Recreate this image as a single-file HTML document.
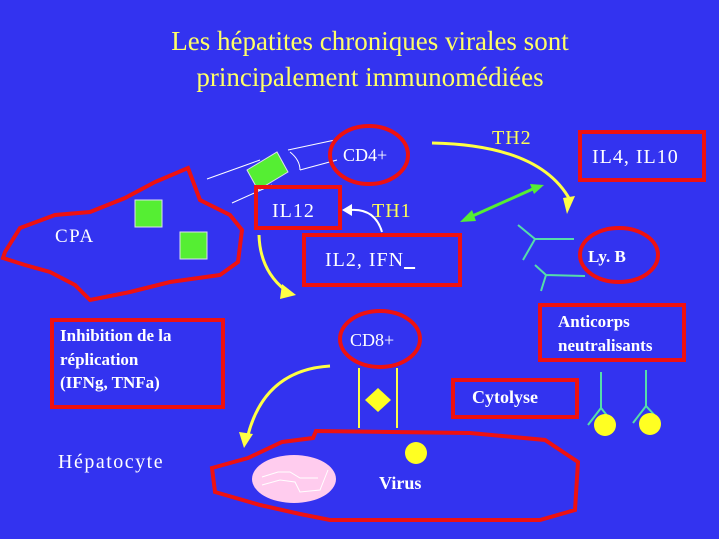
<!DOCTYPE html>
<html><head><style>html,body{margin:0;padding:0;background:#3333f0}svg{display:block}</style></head>
<body>
<svg width="719" height="539" xmlns="http://www.w3.org/2000/svg" font-family="Liberation Serif, serif">
<rect width="719" height="539" fill="#3333f0"/>
<text x="370" y="50" font-size="27" fill="#ffff66" text-anchor="middle">Les hépatites chroniques virales sont</text>
<text x="370" y="86" font-size="27" fill="#ffff66" text-anchor="middle">principalement immunomédiées</text>
<path d="M5,252 L20,228 L55,215 L90,212 L125,198 L155,182 L188,168 L200,200 L230,215 L242,230 L238,262 L220,275 L170,282 L130,292 L90,300 L75,285 L50,272 L25,265 L3,258 Z" fill="none" stroke="#ee1111" stroke-width="4"/>
<text x="55" y="242" font-size="19" fill="#fff" letter-spacing="1.5">CPA</text>
<rect x="135" y="200" width="27" height="27" fill="#55ee33" stroke="#dde" stroke-width="1"/>
<rect x="180" y="232" width="27" height="27" fill="#55ee33" stroke="#dde" stroke-width="1"/>
<line x1="207" y1="179" x2="260" y2="160" stroke="#fff" stroke-width="1"/>
<line x1="232" y1="203" x2="272" y2="185" stroke="#fff" stroke-width="1"/>
<polygon points="247,170 277,152 288,172 258,190" fill="#55ee33" stroke="#dde"/>
<line x1="288" y1="150" x2="335" y2="140" stroke="#fff" stroke-width="1"/>
<line x1="300" y1="170" x2="337" y2="160" stroke="#fff" stroke-width="1"/>
<path d="M290,152 Q300,160 300,170" fill="none" stroke="#fff" stroke-width="1"/>
<ellipse cx="369" cy="155" rx="39" ry="29" fill="none" stroke="#ee1111" stroke-width="4"/>
<text x="343" y="161" font-size="18" fill="#fff">CD4+</text>
<rect x="256" y="187" width="84" height="41" fill="none" stroke="#ee1111" stroke-width="4"/>
<text x="272" y="217" font-size="20" fill="#fff" letter-spacing="1">IL12</text>
<text x="372" y="217" font-size="20" fill="#ffff55" letter-spacing="1">TH1</text>
<path d="M382,232 Q375,208 350,210" fill="none" stroke="#fff" stroke-width="2"/>
<polygon points="342,210 352,204 352,216" fill="#fff"/>
<rect x="304" y="235" width="156" height="50" fill="none" stroke="#ee1111" stroke-width="4"/>
<text x="325" y="266" font-size="20" fill="#fff" letter-spacing="1">IL2, IFN<tspan text-decoration="underline">_</tspan></text>
<path d="M259,235 Q260,270 285,290" fill="none" stroke="#ffff44" stroke-width="3"/>
<polygon points="296,295 282,284 280,299" fill="#ffff44"/>
<text x="492" y="144" font-size="20" fill="#ffff55" letter-spacing="1">TH2</text>
<path d="M432,143 Q540,145 570,200" fill="none" stroke="#ffff44" stroke-width="3"/>
<polygon points="567,214 563,198 575,196" fill="#ffff44"/>
<line x1="468" y1="218" x2="535" y2="188" stroke="#55ee33" stroke-width="3"/>
<polygon points="460,222 472,210 476,221" fill="#55ee33"/>
<polygon points="544,185 530,184 534,194" fill="#55ee33"/>
<rect x="580" y="132" width="124" height="48" fill="none" stroke="#ee1111" stroke-width="4"/>
<text x="592" y="163" font-size="20" fill="#fff" letter-spacing="1">IL4, IL10</text>
<g stroke="#55ddaa" stroke-width="2" fill="none">
<path d="M518,225 L535,239 L574,239 M535,239 L523,260"/>
<path d="M535,265 L546,275 L585,276 M546,275 L541,291"/>
</g>
<ellipse cx="619" cy="255" rx="39" ry="27" fill="none" stroke="#ee1111" stroke-width="4"/>
<text x="588" y="262" font-size="17" font-weight="bold" fill="#fff">Ly. B</text>
<rect x="540" y="305" width="144" height="55" fill="none" stroke="#ee1111" stroke-width="4"/>
<text x="558" y="327" font-size="17" font-weight="bold" fill="#fff">Anticorps</text>
<text x="558" y="351" font-size="17" font-weight="bold" fill="#fff">neutralisants</text>
<g stroke="#55ddaa" stroke-width="2" fill="none">
<path d="M601,372 L601,408 M588,425 L601,408 L614,424"/>
<path d="M646,370 L646,406 M633,423 L646,406 L660,421"/>
</g>
<circle cx="605" cy="425" r="11" fill="#ffff22"/>
<circle cx="650" cy="424" r="11" fill="#ffff22"/>
<rect x="453" y="380" width="124" height="37" fill="none" stroke="#ee1111" stroke-width="4"/>
<text x="472" y="403" font-size="18" font-weight="bold" fill="#fff">Cytolyse</text>
<rect x="52" y="320" width="171" height="87" fill="none" stroke="#ee1111" stroke-width="4"/>
<text x="60" y="341" font-size="17" font-weight="bold" fill="#fff">Inhibition de la</text>
<text x="60" y="365" font-size="17" font-weight="bold" fill="#fff">réplication</text>
<text x="60" y="388" font-size="17" font-weight="bold" fill="#fff">(IFNg, TNFa)</text>
<text x="58" y="468" font-size="20" fill="#fff" letter-spacing="1.5">Hépatocyte</text>
<ellipse cx="380" cy="339" rx="40" ry="28" fill="none" stroke="#ee1111" stroke-width="4"/>
<text x="350" y="346" font-size="18" fill="#fff">CD8+</text>
<line x1="359" y1="368" x2="359" y2="428" stroke="#ffff44" stroke-width="2"/>
<line x1="397" y1="368" x2="397" y2="428" stroke="#ffff44" stroke-width="2"/>
<polygon points="378,388 391,400 378,412 365,400" fill="#ffff22"/>
<path d="M330,366 Q265,370 248,435" fill="none" stroke="#ffff44" stroke-width="3"/>
<polygon points="244,448 239,432 253,434" fill="#ffff44"/>
<path d="M212,468 L248,458 L282,442 L313,438 L316,431 L470,433 L545,440 L578,462 L575,510 L540,520 L330,520 L300,514 L260,505 L215,492 Z" fill="none" stroke="#ee1111" stroke-width="4"/>
<ellipse cx="294" cy="479" rx="42" ry="24" fill="#ffccee"/>
<path d="M262,477 L278,472 L290,472 L300,478 L318,478 M262,485 L280,480 L295,482 L300,492 L320,490 L328,470" fill="none" stroke="#fff" stroke-width="1"/>
<circle cx="416" cy="453" r="11" fill="#ffff22"/>
<text x="379" y="489" font-size="18" font-weight="bold" fill="#fff">Virus</text>
</svg>
</body></html>
